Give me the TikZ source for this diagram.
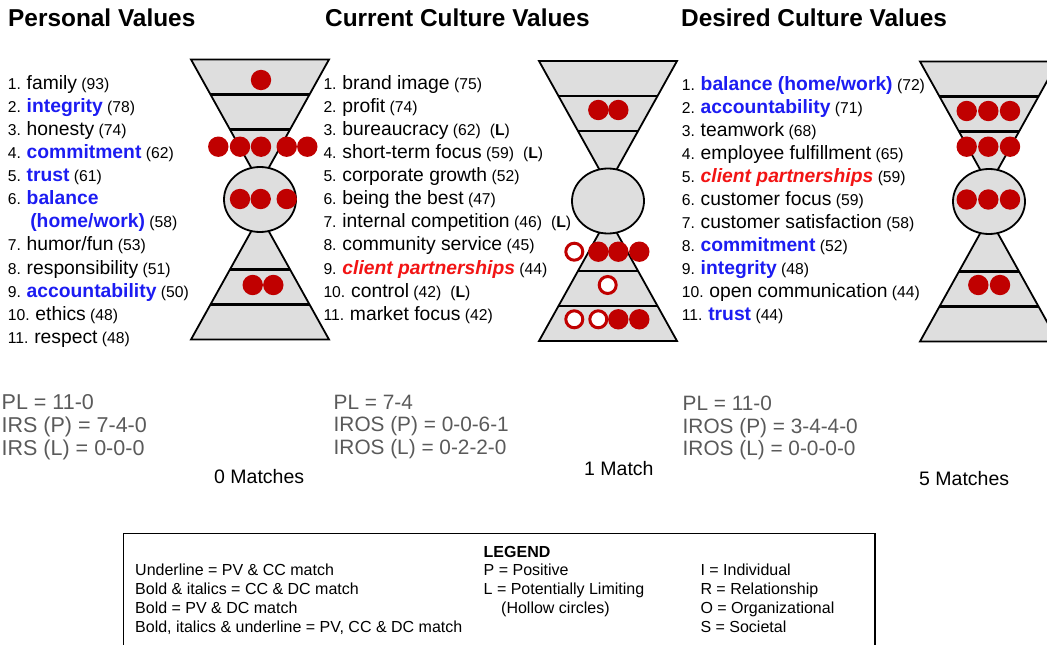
\documentclass[tikz,border=0pt]{standalone}
\usepackage{fontspec}
\setmainfont{Liberation Sans}

\definecolor{pvblue}{HTML}{1C1CF2}
\definecolor{ccred}{HTML}{F21414}
\definecolor{dotred}{HTML}{C00000}
\definecolor{glassgray}{HTML}{DEDEDE}
\definecolor{statgray}{HTML}{5A5A5A}

\newcommand\sm[1]{{\fontsize{15.7}{18}\selectfont#1}}
\newcommand\pvdc[1]{\textcolor{pvblue}{\bfseries#1}}
\newcommand\ccdc[1]{\textcolor{ccred}{\bfseries\itshape#1}}
\newcommand\lmark{\hspace{9pt}(\textbf{L})}

\tikzset{
  title/.style={anchor=base west,inner sep=0pt,font=\fontsize{24.4}{28}\selectfont\bfseries},
  item/.style={anchor=base west,inner sep=0pt,font=\fontsize{19.3}{23}\selectfont},
  stat/.style={anchor=base west,inner sep=0pt,text=statgray,font=\fontsize{20.8}{24}\selectfont},
  tally/.style={anchor=base west,inner sep=0pt,font=\fontsize{19.5}{23}\selectfont},
  key/.style={anchor=base west,inner sep=0pt,font=\fontsize{16}{19}\selectfont},
  glass/.style={fill=glassgray,draw=black,line width=1.8pt},
  sep/.style={line width=2.2pt},
  dot/.style={circle,fill=dotred,inner sep=0pt,minimum size=20.4pt},
  hollow/.style={circle,draw=dotred,fill=white,line width=3pt,inner sep=0pt,minimum size=17pt}
}

\begin{document}
\begin{tikzpicture}[x=1pt,y=-1pt]
  \useasboundingbox (0,0) rectangle (1047,645);
  \clip (0,0) rectangle (1047,645);

  \node[title] (pv-title) at (8,27) {Personal Values};
  \node[title] (cc-title) at (325,27) {Current Culture Values};
  \node[title] (dc-title) at (681,27) {Desired Culture Values};

  \foreach \n/\cx/\cy in {pv/260/199.5, cc/608/201, dc/989/201.5}{
    \coordinate (\n) at (\cx,\cy);
    \draw[glass] ([shift={(-69,-140)}]\n) -- ([shift={(69,-140)}]\n) -- ([shift={(0,-16)}]\n) -- cycle;
    \draw[glass] ([shift={(-69,140)}]\n) -- ([shift={(69,140)}]\n) -- ([shift={(0,16)}]\n) -- cycle;
    \foreach \d/\w in {-105/49.5, -70/30, 70/30, 105/49.5}
      \draw[sep] ([shift={(-\w,\d)}]\n) -- ([shift={(\w,\d)}]\n);
    \draw[glass] (\n) ellipse [x radius=36, y radius=32.5];
  }

  \foreach \entry [count=\i from 0] in {
      {\sm{1. }family\sm{ (93)}},
      {\sm{2. }\pvdc{integrity}\sm{ (78)}},
      {\sm{3. }honesty\sm{ (74)}},
      {\sm{4. }\pvdc{commitment}\sm{ (62)}},
      {\sm{5. }\pvdc{trust}\sm{ (61)}},
      {\sm{6. }\pvdc{balance}},
      {\hspace*{22.5pt}\pvdc{(home/work)}\sm{ (58)}},
      {\sm{7. }humor/fun\sm{ (53)}},
      {\sm{8. }responsibility\sm{ (51)}},
      {\sm{9. }\pvdc{accountability}\sm{ (50)}},
      {\sm{10. }ethics\sm{ (48)}},
      {\sm{11. }respect\sm{ (48)}}}
    \node[item] (pv\i) at (7.6,{89.5+23.07*\i}) {\entry};

  \foreach \entry [count=\i from 0] in {
      {\sm{1. }brand image\sm{ (75)}},
      {\sm{2. }profit\sm{ (74)}},
      {\sm{3. }bureaucracy\sm{ (62)\lmark}},
      {\sm{4. }short-term focus\sm{ (59)\lmark}},
      {\sm{5. }corporate growth\sm{ (52)}},
      {\sm{6. }being the best\sm{ (47)}},
      {\sm{7. }internal competition\sm{ (46)\lmark}},
      {\sm{8. }community service\sm{ (45)}},
      {\sm{9. }\ccdc{client partnerships}\sm{ (44)}},
      {\sm{10. }control\sm{ (42)\lmark}},
      {\sm{11. }market focus\sm{ (42)}}}
    \node[item] (cc\i) at (323.3,{89.5+23.07*\i}) {\entry};

  \foreach \entry [count=\i from 0] in {
      {\sm{1. }\pvdc{balance (home/work)}\sm{ (72)}},
      {\sm{2. }\pvdc{accountability}\sm{ (71)}},
      {\sm{3. }teamwork\sm{ (68)}},
      {\sm{4. }employee fulfillment\sm{ (65)}},
      {\sm{5. }\ccdc{client partnerships}\sm{ (59)}},
      {\sm{6. }customer focus\sm{ (59)}},
      {\sm{7. }customer satisfaction\sm{ (58)}},
      {\sm{8. }\pvdc{commitment}\sm{ (52)}},
      {\sm{9. }\pvdc{integrity}\sm{ (48)}},
      {\sm{10. }open communication\sm{ (44)}},
      {\sm{11. }\pvdc{trust}\sm{ (44)}}}
    \node[item] (dc\i) at (681.6,{90+23.07*\i}) {\entry};

  \node[dot] (pv-t) at (261,80) {};
  \foreach \x [count=\k] in {218.3,240,261,286.7,307.3}
    \node[dot] (pv-n\k) at (\x,146.7) {};
  \foreach \x [count=\k] in {240,260.7,286.7}
    \node[dot] (pv-c\k) at (\x,199) {};
  \foreach \x [count=\k] in {252.7,273.3}
    \node[dot] (pv-b\k) at (\x,285) {};

  \foreach \x [count=\k] in {598.3,618.3}
    \node[dot] (cc-t\k) at (\x,110) {};
  \node[hollow] (cc-n1) at (574.3,251.7) {};
  \foreach \x [count=\k from 2] in {598.3,618.3,639.3}
    \node[dot] (cc-n\k) at (\x,251.7) {};
  \node[hollow] (cc-m) at (607.7,285) {};
  \foreach \x [count=\k] in {574.3,598.3}
    \node[hollow] (cc-b\k) at (\x,319.3) {};
  \foreach \x [count=\k from 3] in {618.3,639.3}
    \node[dot] (cc-b\k) at (\x,319.3) {};

  \foreach \y/\r in {111/t, 146.7/n, 199.5/c}
    \foreach \x [count=\k] in {966.7,988.3,1010}
      \node[dot] (dc-\r\k) at (\x,\y) {};
  \foreach \x [count=\k] in {978.3,1000}
    \node[dot] (dc-b\k) at (\x,285) {};

  \node[stat,font=\fontsize{21.5}{24}\selectfont] (pv-pl) at (1.5,409) {PL = 11-0};
  \node[stat,font=\fontsize{21.5}{24}\selectfont] (pv-irsp) at (1.5,432.3) {IRS (P) = 7-4-0};
  \node[stat,font=\fontsize{21.5}{24}\selectfont] (pv-irsl) at (1.5,455.6) {IRS (L) = 0-0-0};
  \node[tally] (pv-match) at (214,483.7) {0 Matches};

  \node[stat] (cc-pl) at (333.5,409) {PL = 7-4};
  \node[stat] (cc-irosp) at (333.5,431.5) {IROS (P) = 0-0-6-1};
  \node[stat] (cc-irosl) at (333.5,454) {IROS (L) = 0-2-2-0};
  \node[tally] (cc-match) at (584,475.3) {1 Match};

  \node[stat] (dc-pl) at (682.5,410) {PL = 11-0};
  \node[stat] (dc-irosp) at (682.5,433.5) {IROS (P) = 3-4-4-0};
  \node[stat] (dc-irosl) at (682.5,455.6) {IROS (L) = 0-0-0-0};
  \node[tally] (dc-match) at (919,485.3) {5 Matches};

  \draw[line width=1.2pt] (123.3,533.3) rectangle (875,670);
  \node[key,font=\fontsize{16}{19}\selectfont\bfseries] (lg-title) at (483.5,557) {LEGEND};
  \foreach \entry [count=\i from 0] in {
      {Underline = PV \& CC match},
      {Bold \& italics = CC \& DC match},
      {Bold = PV \& DC match},
      {Bold, italics \& underline = PV, CC \& DC match}}
    \node[key] (lg-a\i) at (135,{575.5+19*\i}) {\entry};
  \node[key] (lg-p) at (483.5,575.5) {P = Positive};
  \node[key] (lg-l) at (483.5,594.5) {L = Potentially Limiting};
  \node[key] (lg-h) at (501,613.5) {(Hollow circles)};
  \foreach \entry [count=\i from 0] in {
      {I = Individual}, {R = Relationship}, {O = Organizational}, {S = Societal}}
    \node[key] (lg-c\i) at (700.3,{575.5+19*\i}) {\entry};
\end{tikzpicture}
\end{document}
